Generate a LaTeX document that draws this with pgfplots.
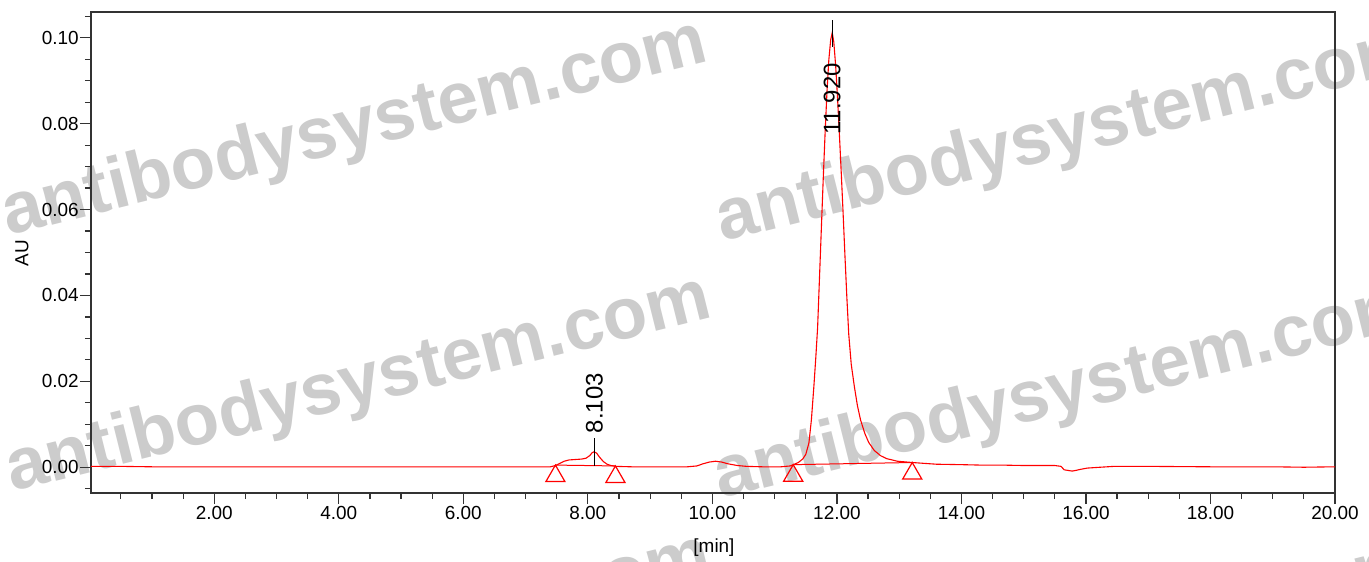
\documentclass[border=0pt]{standalone}
\usepackage{fontspec}
\setmainfont{Liberation Sans}
\usepackage{pgfplots}
\pgfplotsset{compat=1.18}

% image pixel (X,Y) -> (X/2 bp, (562-Y)/2 bp)
\newcommand{\wmfont}{\fontsize{36.5}{40}\selectfont\bfseries}

\begin{document}
\begin{tikzpicture}
\useasboundingbox (0,0) rectangle (684.5bp,281bp);

% watermark
\begin{scope}[every node/.style={anchor=base west, rotate=14, text=gray!40, font=\wmfont, inner sep=0pt}]
\node at (4bp,163bp) {antibodysystem.com};
\node at (361bp,160bp) {antibodysystem.com};
\node at (6bp,35bp) {antibodysystem.com};
\node at (360bp,31.5bp) {antibodysystem.com};
\node at (6bp,-94bp) {antibodysystem.com};
\node at (360bp,-97.5bp) {antibodysystem.com};
\end{scope}

\begin{axis}[
    at={(45.5bp,34.5bp)}, anchor=south west,
    width=622bp, height=240.5bp, scale only axis,
    xmin=0.02, xmax=20,
    ymin=-0.006, ymax=0.106,
    xtick={2,4,...,20},
    ytick={0,0.02,0.04,0.06,0.08,0.10},
    minor xtick={0.5,1,1.5,2.5,3,3.5,4.5,5,5.5,6.5,7,7.5,8.5,9,9.5,10.5,11,11.5,12.5,13,13.5,14.5,15,15.5,16.5,17,17.5,18.5,19,19.5},
    minor ytick={-0.005,0.005,0.01,0.015,0.025,0.03,0.035,0.045,0.05,0.055,0.065,0.07,0.075,0.085,0.09,0.095,0.105},
    tick align=outside,
    xtick pos=left, ytick pos=left,
    major tick length=5.5bp, minor tick length=3bp,
    tick style={black!80, line width=0.6bp},
    axis line style={black!80, line width=0.7bp},
    tick label style={font=\fontsize{9.5}{11}\selectfont},
    xticklabel style={inner sep=1bp, /pgf/number format/.cd, fixed, fixed zerofill, precision=2, assume math mode=true},
    yticklabel style={inner sep=0.5bp, /pgf/number format/.cd, fixed, fixed zerofill, precision=2, assume math mode=true},
    scaled y ticks=false,
    xlabel={[min]}, ylabel={AU},
    label style={font=\fontsize{9.5}{11}\selectfont},
    xlabel style={at={(axis description cs:0.5008,-0.1143)}, anchor=center},
    ylabel style={at={(axis description cs:-0.0555,0.499)}, anchor=center, rotate=0},
    clip=false,
]

% chromatogram trace
\addplot[red, line width=0.55bp] coordinates {
(0.02,0.0002) (0.5,0.0002) (1.0,0.0001) (1.5,0.0001) (2.0,0.0001) (3.0,0.0001)
(4.0,0.0001) (5.0,0.0001) (6.0,0.0001) (7.0,0.0001) (7.40,0.0001)
(7.48,0.0004) (7.55,0.0009) (7.62,0.0014) (7.70,0.0017) (7.80,0.0018)
(7.90,0.0019) (7.97,0.0021) (8.03,0.0027) (8.07,0.0034) (8.10,0.0036)
(8.14,0.0033) (8.19,0.0023) (8.25,0.0013) (8.31,0.0007) (8.37,0.0004)
(8.45,0.0002) (8.7,0.0001) (9.6,0.0001) (9.75,0.0003) (9.85,0.0008)
(9.95,0.0012) (10.05,0.0014) (10.15,0.0012) (10.25,0.0008) (10.40,0.0004)
(10.55,0.0002) (10.8,0.0001) (11.1,0.0001) (11.25,0.0003) (11.30,0.0006)
(11.38,0.0011) (11.45,0.0019) (11.50,0.0030) (11.55,0.0056) (11.59,0.0110)
(11.63,0.0188) (11.66,0.0253) (11.69,0.0325) (11.72,0.0440) (11.75,0.0555)
(11.78,0.0670) (11.81,0.0777) (11.84,0.0873) (11.87,0.0948) (11.90,0.0995)
(11.925,0.1012) (11.95,0.0990) (11.98,0.0935) (12.01,0.0860) (12.04,0.0775)
(12.07,0.0685) (12.10,0.0590) (12.13,0.0490) (12.16,0.0395) (12.19,0.0310)
(12.23,0.0240) (12.28,0.0188) (12.33,0.0143) (12.38,0.0110) (12.45,0.0078)
(12.51,0.0058) (12.60,0.0039) (12.70,0.0027) (12.80,0.0020) (12.97,0.0014)
(13.21,0.0011) (13.40,0.0009) (13.60,0.0007) (14.00,0.0006) (14.30,0.0005)
(14.63,0.0005) (15.0,0.0004) (15.5,0.0004) (15.6,0.0002) (15.65,-0.0006)
(15.78,-0.0009) (15.85,-0.0007) (15.91,-0.0005) (16.02,-0.0002) (16.23,0.0000)
(16.45,0.0002) (17.0,0.0002) (18.0,0.0001) (19.0,0.0001) (19.5,0.0000) (20.0,0.0001)
};

% integration baselines
\addplot[red, line width=0.5bp] coordinates {(7.479,0.0005) (8.443,0.0003)};
\addplot[red, line width=0.5bp] coordinates {(11.298,0.0006) (13.21,0.0011)};

% peak start/end markers
\addplot[only marks, mark=triangle, mark size=5.5bp,
    mark options={draw=red, line width=0.6bp, yshift=-5.5bp}] coordinates {
(7.479,0.0005) (8.443,0.0003) (11.298,0.0006) (13.21,0.0011)
};

% retention time labels
\draw[black, line width=0.5bp] (axis cs:8.103,0.0003) -- (axis cs:8.103,0.0067);
\node[rotate=90, anchor=west, inner sep=0pt, xshift=-1bp, font=\fontsize{12}{14}\selectfont]
    at (axis cs:8.103,0.0083) {8.103};
\draw[black, line width=0.5bp] (axis cs:11.925,0.0979) -- (axis cs:11.925,0.1041);
\node[rotate=90, anchor=west, inner sep=0pt, xshift=-1bp, font=\fontsize{12}{14}\selectfont]
    at (axis cs:11.925,0.0778) {11.920};

\end{axis}
\end{tikzpicture}
\end{document}
